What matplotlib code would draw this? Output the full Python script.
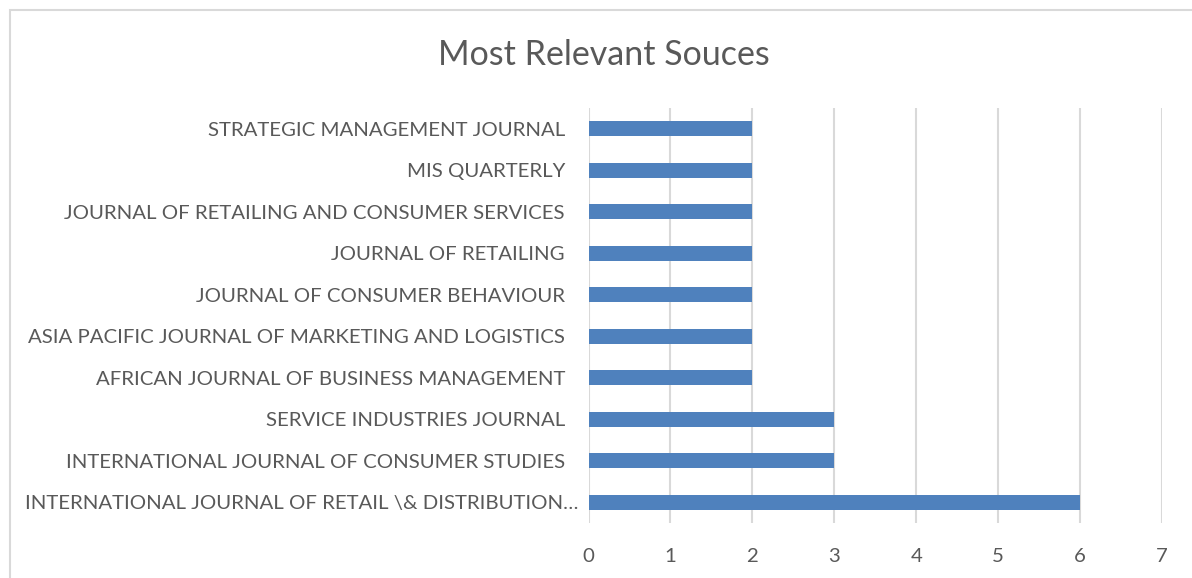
import matplotlib
matplotlib.use("Agg")
import matplotlib.pyplot as plt
from matplotlib.patches import Rectangle
from matplotlib.transforms import ScaledTranslation

categories = [
    "INTERNATIONAL JOURNAL OF RETAIL \\& DISTRIBUTION\u2026",
    "INTERNATIONAL JOURNAL OF CONSUMER STUDIES",
    "SERVICE INDUSTRIES JOURNAL",
    "AFRICAN JOURNAL OF BUSINESS MANAGEMENT",
    "ASIA PACIFIC JOURNAL OF MARKETING AND LOGISTICS",
    "JOURNAL OF CONSUMER BEHAVIOUR",
    "JOURNAL OF RETAILING",
    "JOURNAL OF RETAILING AND CONSUMER SERVICES",
    "MIS QUARTERLY",
    "STRATEGIC MANAGEMENT JOURNAL",
]
values = [6, 3, 3, 2, 2, 2, 2, 2, 2, 2]
xticks = [0, 1, 2, 3, 4, 5, 6, 7]
title = "Most Relevant Souces"

plt.rcParams['font.family'] = ['Lato', 'DejaVu Sans']

W, H = 1192, 578
fig = plt.figure(figsize=(W / 100, H / 100), dpi=100)
ax = fig.add_axes([588.5 / W, 1 - 523 / H, (1162 - 588.5) / W, (523 - 108) / H])

ypos = list(range(len(categories)))
ax.barh(ypos, values, height=0.355, color="#4F81BD", zorder=3)
ax.set_ylim(-0.5, len(categories) - 0.5)
ax.set_xlim(0, 7)
ax.set_xticks(xticks)
ax.set_yticks(ypos)
ax.set_yticklabels(categories)
ax.grid(axis="x", color="#D9D9D9", linewidth=1.5, zorder=0)
for s in ax.spines.values():
    s.set_visible(False)
ax.tick_params(axis="both", length=0, colors="#595959", labelsize=14.7)
ax.tick_params(axis="y", pad=17)
ax.tick_params(axis="x", pad=18)

# the truncated first label sits a little closer to the axis
lbl = ax.yaxis.get_major_ticks()[0].label1
lbl.set_transform(lbl.get_transform() + ScaledTranslation(13 / 100, 0, fig.dpi_scale_trans))

fig.text(604 / W, 1 - 55 / H, title, ha="center", va="center",
         fontsize=24.5, color="#595959")

fig.patches.append(Rectangle((10 / W, -0.1), 1.2, 1 - 10 / H + 0.1,
                             transform=fig.transFigure, fill=False,
                             edgecolor="#D9D9D9", linewidth=1.5))

fig.savefig("out.png", dpi=100)
